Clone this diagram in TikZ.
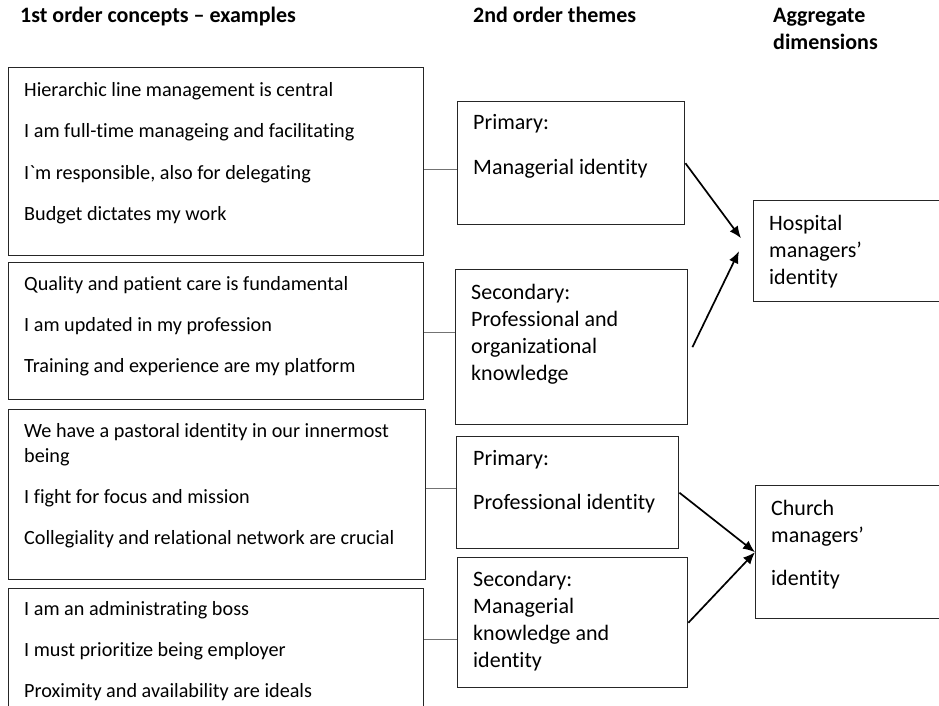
\documentclass[tikz,border=0pt]{standalone}
\usepackage{fontspec}
\setmainfont{Carlito}[Ligatures={NoCommon,TeXOff}]
\usetikzlibrary{arrows.meta,calc}
\begin{document}
\begin{tikzpicture}[x=1pt,y=-1pt,
  box/.style={draw=black!85,line width=1.4pt,inner sep=0pt,anchor=north west},
  txt/.style={anchor=base west,inner sep=0pt,font=\fontsize{22}{26}\selectfont},
  ltxt/.style={anchor=base west,inner sep=0pt,font=\fontsize{20.2}{24}\selectfont},
  head/.style={txt,font=\fontsize{22}{26}\selectfont\bfseries},
  link/.style={draw=black!55,line width=0.9pt},
  arr/.style={draw=black,line width=1.7pt,-{Latex[length=12pt,width=10pt]}}]
\useasboundingbox (0,0) rectangle (939,706);
\clip (0,0) rectangle (939,706);

% column headings
\node[head] (h1) at (20,23) {1st order concepts – examples};
\node[head] (h2) at (473,23) {2nd order themes};
\node[head] (h3a) at (773,23) {Aggregate};
\node[head] (h3b) at (773,50) {dimensions};

% first-order concept boxes
\node[box,minimum width=415pt,minimum height=188pt] (b1) at (8,67) {};
\node[box,minimum width=415pt,minimum height=137pt] (b2) at (8,262) {};
\node[box,minimum width=417pt,minimum height=170pt] (b3) at (8,409) {};
\node[box,minimum width=415pt,minimum height=140pt] (b4) at (8,588) {};

\node[ltxt] (t11) at (24,97) {Hierarchic line management is central};
\node[ltxt] (t12) at (24,138) {I am full-time manageing and facilitating};
\node[ltxt] (t13) at (24,179) {I`m responsible, also for delegating};
\node[ltxt] (t14) at (24,220) {Budget dictates my work};

\node[ltxt] (t21) at (24,290) {Quality and patient care is fundamental};
\node[ltxt] (t22) at (24,331) {I am updated in my profession};
\node[ltxt] (t23) at (24,372) {Training and experience are my platform};

\node[ltxt] (t31) at (24,437) {We have a pastoral identity in our innermost};
\node[ltxt] (t32) at (24,462) {being};
\node[ltxt] (t33) at (24,503) {I fight for focus and mission};
\node[ltxt] (t34) at (24,544) {Collegiality and relational network are crucial};

\node[ltxt] (t41) at (24,615) {I am an administrating boss};
\node[ltxt] (t42) at (24,656) {I must prioritize being employer};
\node[ltxt] (t43) at (24,697) {Proximity and availability are ideals};

% second-order theme boxes
\node[box,minimum width=227pt,minimum height=123pt] (m1) at (457,101) {};
\node[box,minimum width=232pt,minimum height=155pt] (m2) at (455,269) {};
\node[box,minimum width=222pt,minimum height=112pt] (m3) at (456,436) {};
\node[box,minimum width=230pt,minimum height=130pt] (m4) at (457,557) {};

\node[txt] (s11) at (473,130) {Primary:};
\node[txt] (s12) at (473,174) {Managerial identity};

\node[txt] (s21) at (471,299) {Secondary:};
\node[txt] (s22) at (471,326) {Professional and};
\node[txt] (s23) at (471,353) {organizational};
\node[txt] (s24) at (471,380) {knowledge};

\node[txt] (s31) at (473,465) {Primary:};
\node[txt] (s32) at (473,509) {Professional identity};

\node[txt] (s41) at (473,586) {Secondary:};
\node[txt] (s42) at (473,613) {Managerial};
\node[txt] (s43) at (473,640) {knowledge and};
\node[txt] (s44) at (473,667) {identity};

% aggregate dimension boxes
\node[box,minimum width=220pt,minimum height=101pt] (hosp) at (753,200) {};
\node[box,minimum width=220pt,minimum height=133pt] (church) at (755,485) {};

\node[txt] (a11) at (769,230) {Hospital};
\node[txt] (a12) at (769,257) {managers’};
\node[txt] (a13) at (769,284) {identity};

\node[txt] (a21) at (771,515) {Church};
\node[txt] (a22) at (771,542) {managers’};
\node[txt] (a23) at (771,585) {identity};

% thin links between first- and second-order boxes
\coordinate (y1) at (0,169);
\coordinate (y2) at (0,332);
\coordinate (y3) at (0,488);
\coordinate (y4) at (0,639);
\draw[link] (b1.east |- y1) -- (m1.west |- y1);
\draw[link] (b2.east |- y2) -- (m2.west |- y2);
\draw[link] (b3.east |- y3) -- (m3.west |- y3);
\draw[link] (b4.east |- y4) -- (m4.west |- y4);

% arrows to the aggregate dimensions
\coordinate (hin1) at ($(hosp.west)+(-12,-13)$);
\coordinate (hin2) at ($(hosp.west)+(-14,0)$);
\coordinate (m2out) at ($(m2.east)+(4,0)$);
\draw[arr] (m1.east) -- (hin1);
\draw[arr] (m2out) -- (hin2);
\draw[arr] (m3.east) -- (church.west);
\draw[arr] (m4.east) -- (church.west);
\end{tikzpicture}
\end{document}
